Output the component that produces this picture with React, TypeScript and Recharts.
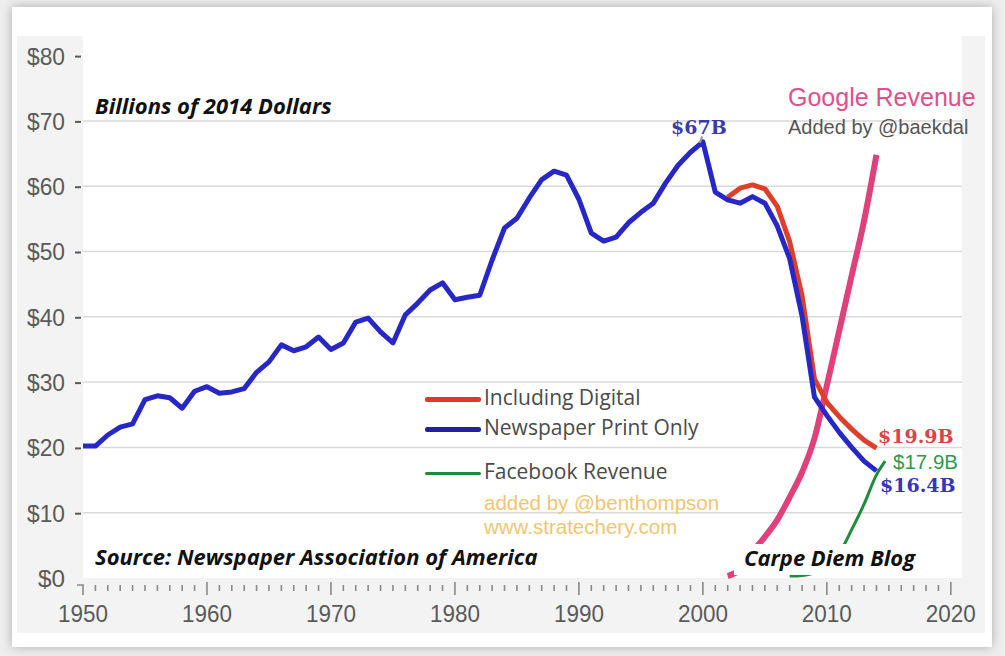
import { LineChart, Line, XAxis, YAxis, CartesianGrid } from "recharts";

// newspaper ad revenue, billions of 2014 dollars
const printYears = Array.from({ length: 65 }, (_, i) => 1950 + i);
const printRevenue = [
  20.2, 20.2, 21.9, 23.1, 23.6, 27.3, 27.9, 27.6, 26.0, 28.6,
  29.3, 28.3, 28.5, 29.0, 31.5, 33.1, 35.7, 34.8, 35.4, 36.9,
  35.0, 36.0, 39.2, 39.8, 37.7, 36.0, 40.3, 42.1, 44.1, 45.2,
  42.6, 43.0, 43.3, 48.7, 53.6, 55.1, 58.2, 61.0, 62.3, 61.7,
  58.0, 52.8, 51.6, 52.2, 54.4, 56.0, 57.4, 60.5, 63.2, 65.2,
  66.8, 59.1, 57.9, 57.4, 58.4, 57.4, 53.9, 48.9, 40.1, 27.7,
  24.9, 22.3, 20.0, 17.9, 16.4,
];

const digitalYears = [2002, 2003, 2004, 2005, 2006, 2007, 2008, 2009, 2010, 2011, 2012, 2013, 2014];
const digitalRevenue = [58.3, 59.7, 60.2, 59.6, 56.9, 51.5, 43.2, 30.5, 26.9, 24.7, 22.8, 21.1, 19.9];

const googleYears = [2002, 2003, 2004, 2005, 2006, 2007, 2008, 2009, 2010, 2011, 2012, 2013, 2014];
const googleRevenue = [0.3, 1.3, 4.0, 6.3, 8.9, 12.4, 16.2, 21.4, 29.5, 37.9, 46.3, 54.7, 64.8];

const facebookYears = [2007, 2008, 2009, 2010, 2011, 2012, 2013, 2014, 2014.7];
const facebookRevenue = [0.3, 0.4, 0.8, 2.0, 3.8, 7.4, 11.3, 15.8, 17.9];

const yTicks = [0, 10, 20, 30, 40, 50, 60, 70, 80];
const gridValues = [10, 20, 30, 40, 50, 60, 70];
const yearTicks = Array.from({ length: 71 }, (_, i) => 1950 + i);

const toPoints = (years: number[], values: number[]) =>
  years.map((year, i) => ({ year, value: values[i] }));

const printData = toPoints(printYears, printRevenue);
const digitalData = toPoints(digitalYears, digitalRevenue);
const googleData = toPoints(googleYears, googleRevenue);
const facebookData = toPoints(facebookYears, facebookRevenue);

const sans = "'Liberation Sans', Arial, sans-serif";
const open = "'Open Sans', sans-serif";
const serif = "'DejaVu Serif', 'Liberation Serif', serif";

const XTick = (props: any) => {
  const x = Number(props.x);
  const y = Number(props.y);
  const yr = Number(props.payload?.value);
  const major = yr % 10 === 0;
  const top = y + (major ? 4 : 7);
  const bottom = y + (major ? 17 : 13);
  let d = `M${x},${top}L${x},${bottom}`;
  if (yr === 1950) d = `M${x - 6},${y + 7}L${x},${y + 7}L${x},${bottom}`;
  return (
    <g>
      <path d={d} stroke="#8a8a8a" strokeWidth={1.6} fill="none" />
      {major && (
        <text
          x={x}
          y={y + 44}
          textAnchor="middle"
          fontSize={24}
          fontFamily={sans}
          fill="#5a5a5a"
          textLength={50}
          lengthAdjust="spacingAndGlyphs"
        >
          {yr}
        </text>
      )}
    </g>
  );
};

const YTick = (props: any) => {
  const x = Number(props.x);
  const y = Number(props.y);
  const v = Number(props.payload?.value);
  const label = `$${v}`;
  return (
    <g>
      <text
        x={x - 18}
        y={y + 9}
        textAnchor="end"
        fontSize={24}
        fontFamily={sans}
        fill="#5a5a5a"
        textLength={label.length === 2 ? 27 : 38}
        lengthAdjust="spacingAndGlyphs"
      >
        {label}
      </text>
      {v !== 0 && <path d={`M${x - 8},${y + 1}L${x - 2},${y + 1}`} stroke="#5a5a5a" strokeWidth={2} />}
    </g>
  );
};

const abs = (left: number, top: number, extra: React.CSSProperties = {}): React.CSSProperties => ({
  position: "absolute",
  left,
  top,
  whiteSpace: "nowrap",
  lineHeight: 1,
  ...extra,
});

const legendLine = (left: number, top: number, color: string, h: number) => (
  <div style={abs(left, top, { width: 56, height: h, background: color, borderRadius: 2 })} />
);

export default function App() {
  return (
    <div style={{ position: "absolute", left: 0, top: 0, width: 1005, height: 656, background: "#eeeeee", overflow: "hidden" }}>
      <div
        style={abs(12, 7, {
          width: 980,
          height: 640,
          background: "#fff",
          boxShadow: "0 0 10px rgba(0,0,0,0.28)",
        })}
      />
      <div style={abs(17, 36, { width: 968, height: 597, background: "#f3f3f3" })} />

      <div style={abs(0, 0)}>
        <LineChart
          width={1005}
          height={656}
          margin={{ top: 36, right: 43, bottom: 33, left: 0 }}
        >
          <CartesianGrid
            vertical={false}
            horizontalValues={gridValues}
            stroke="#d9d9d9"
            strokeWidth={1.5}
            fill="#fff"
          />
          <XAxis
            type="number"
            dataKey="year"
            domain={[1950, 2020.9]}
            ticks={yearTicks}
            interval={0}
            axisLine={false}
            tickLine={false}
            tickSize={0}
            tickMargin={0}
            height={45}
            tick={(p: any) => <XTick {...p} />}
            allowDataOverflow
          />
          <YAxis
            type="number"
            domain={[0, 83]}
            ticks={yTicks}
            interval={0}
            axisLine={false}
            tickLine={false}
            tickSize={0}
            tickMargin={0}
            width={83}
            tick={(p: any) => <YTick {...p} />}
          />
          <Line
            data={googleData}
            dataKey="value"
            stroke="#e0407c"
            strokeWidth={6}
            dot={false}
            type="monotone"
            isAnimationActive={false}
          />
          <Line
            data={facebookData}
            dataKey="value"
            stroke="#1f8c3c"
            strokeWidth={3}
            dot={false}
            type="monotone"
            isAnimationActive={false}
          />
          <Line
            data={digitalData}
            dataKey="value"
            stroke="#de3f2a"
            strokeWidth={5}
            dot={false}
            strokeLinejoin="round"
            isAnimationActive={false}
          />
          <Line
            data={printData}
            dataKey="value"
            stroke="#2727c6"
            strokeWidth={5}
            dot={false}
            strokeLinejoin="round"
            isAnimationActive={false}
          />
        </LineChart>
      </div>

      {/* annotations */}
      <div style={abs(95, 94, { fontFamily: open, fontWeight: 700, fontStyle: "italic", fontSize: 22, color: "#111" })}>
        Billions of 2014 Dollars
      </div>
      <div style={abs(671, 118, { fontFamily: serif, fontWeight: 700, fontSize: 19, color: "#3a3aa8" })}>
        $67B
      </div>
      <div style={abs(700, 136, { width: 1.5, height: 7, background: "#999", transform: "rotate(20deg)" })} />
      <div style={abs(788, 85, { fontFamily: sans, fontSize: 25, color: "#e0508a" })}>Google Revenue</div>
      <div style={abs(788, 117, { fontFamily: sans, fontSize: 20, color: "#555" })}>Added by @baekdal</div>

      {legendLine(425, 397, "#d93a2b", 5)}
      {legendLine(425, 427, "#22229e", 5)}
      {legendLine(425, 472, "#1f8a3c", 3)}
      <div style={abs(484, 387, { fontFamily: open, fontSize: 21, color: "#4a4a4a" })}>Including Digital</div>
      <div style={abs(484, 417, { fontFamily: open, fontSize: 21, color: "#4a4a4a" })}>Newspaper Print Only</div>
      <div style={abs(484, 461, { fontFamily: open, fontSize: 21, color: "#4a4a4a" })}>Facebook Revenue</div>
      <div style={abs(484, 493, { fontFamily: sans, fontSize: 20.5, color: "#f1c670" })}>added by @benthompson</div>
      <div style={abs(484, 517, { fontFamily: sans, fontSize: 20.5, color: "#f1c670" })}>www.stratechery.com</div>

      <div style={abs(878, 427, { fontFamily: serif, fontWeight: 700, fontSize: 19, color: "#d94545" })}>$19.9B</div>
      <div style={abs(893, 452, { fontFamily: sans, fontSize: 20.5, color: "#2e9a4e" })}>$17.9B</div>
      <div style={abs(880, 476, { fontFamily: serif, fontWeight: 700, fontSize: 19, color: "#3535bb" })}>$16.4B</div>

      <div style={abs(95, 545, { fontFamily: open, fontWeight: 700, fontStyle: "italic", fontSize: 22, color: "#111" })}>
        Source: Newspaper Association of America
      </div>
      <div
        style={abs(734, 544, {
          width: 190,
          height: 31,
          background: "#fff",
        })}
      />
      <div style={abs(744, 546, { fontFamily: open, fontWeight: 700, fontStyle: "italic", fontSize: 22, color: "#111" })}>
        Carpe Diem Blog
      </div>
    </div>
  );
}
